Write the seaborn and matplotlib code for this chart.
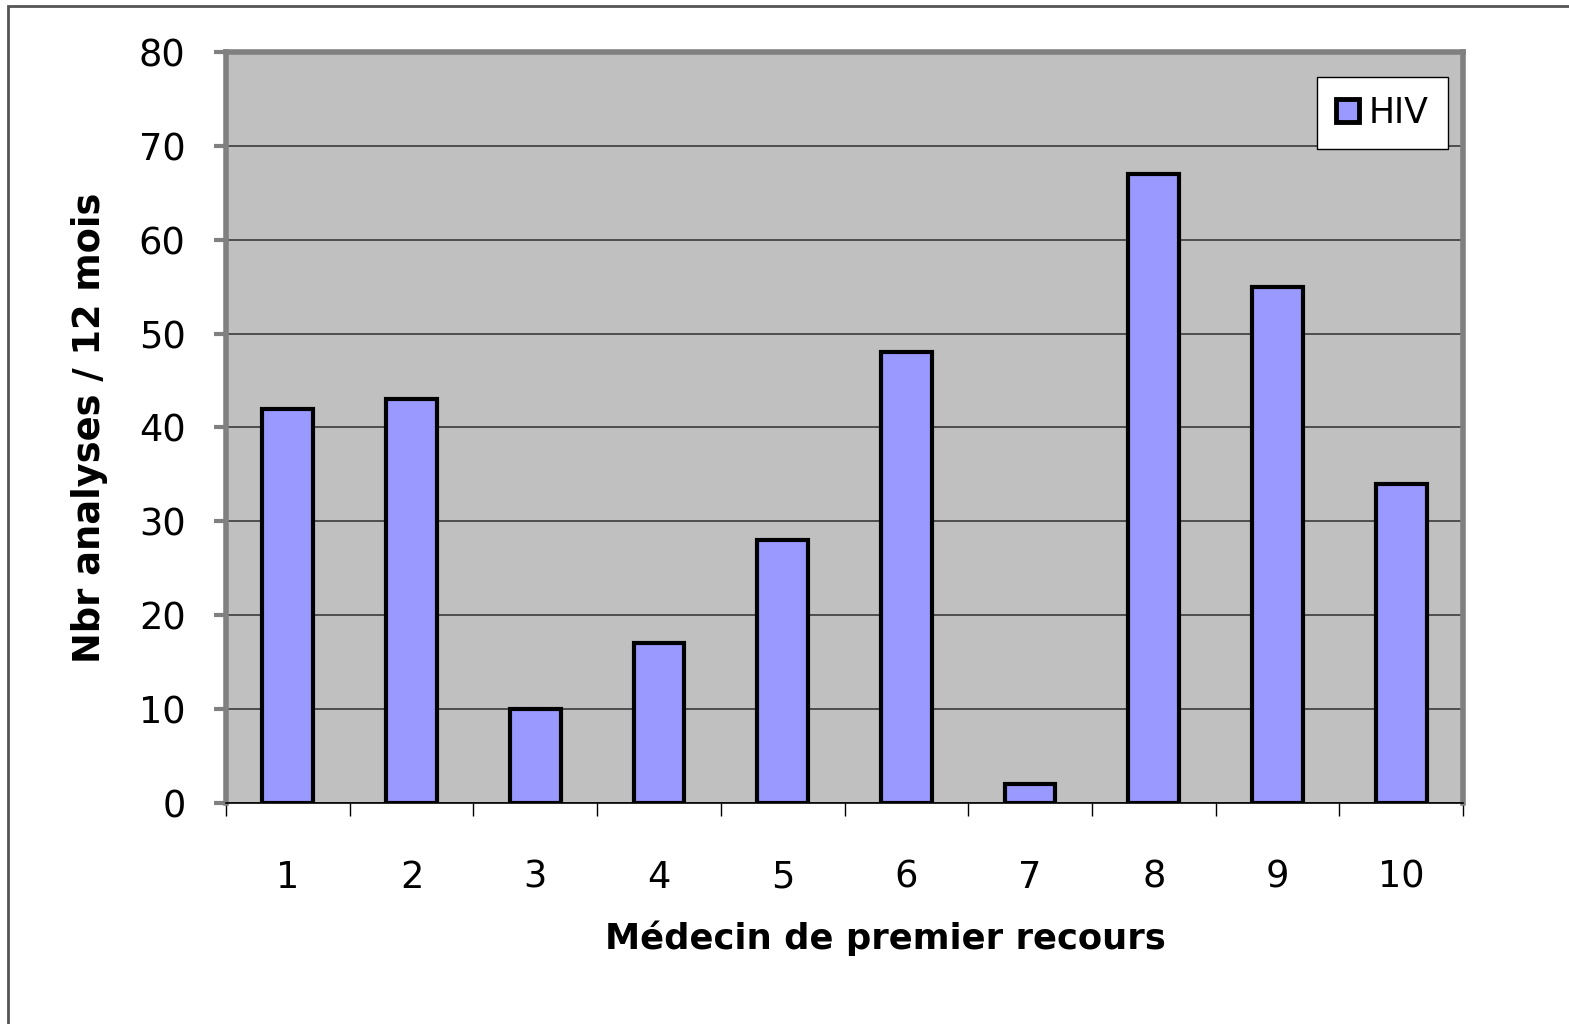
import matplotlib
matplotlib.use("Agg")
import matplotlib.pyplot as plt
import seaborn as sns
import pandas as pd
from matplotlib.patches import Patch, Rectangle
from matplotlib.ticker import FixedLocator

categories = ["1", "2", "3", "4", "5", "6", "7", "8", "9", "10"]
hiv_values = [42, 43, 10, 17, 28, 48, 2, 67, 55, 34]
series_name = "HIV"
y_ticks = [0, 10, 20, 30, 40, 50, 60, 70, 80]

df = pd.DataFrame({"medecin": categories, "n": hiv_values})

sns.set_style("white")
plt.rcParams['font.family'] = ['DejaVu Sans']
plt.rcParams['text.color'] = 'black'
plt.rcParams['axes.labelcolor'] = 'black'
plt.rcParams['xtick.labelcolor'] = 'black'
plt.rcParams['ytick.labelcolor'] = 'black'

fig = plt.figure(figsize=(15.69, 10.24), dpi=100)
ax = fig.add_axes([226/1569, 1 - 803/1024, (1463-226)/1569, (803-52)/1024])
ax.set_facecolor("#C0C0C0")

sns.barplot(data=df, x="medecin", y="n", ax=ax, color="#9999FF", saturation=1,
            width=0.41, edgecolor="black", linewidth=3, zorder=3)

ax.set_ylim(0, 80)
ax.set_xlim(-0.5, len(categories) - 0.5)
ax.set_yticks(y_ticks)
ax.yaxis.grid(True, color="#3a3a3a", linewidth=1.2, zorder=1)
ax.set_axisbelow(True)

for s in ["left", "top", "right"]:
    ax.spines[s].set_color("#808080")
    ax.spines[s].set_linewidth(4)
ax.spines["bottom"].set_color("black")
ax.spines["bottom"].set_linewidth(1.2)

ax.tick_params(axis="y", which="major", left=True, length=9, width=3, color="#808080",
               labelsize=26.5, pad=20, labelcolor="black")
ax.set_xticks(range(len(categories)))
ax.set_xticklabels(categories)
ax.tick_params(axis="x", which="major", length=0, labelsize=26.5, pad=40, labelcolor="black")
ax.xaxis.set_minor_locator(FixedLocator([i - 0.5 for i in range(len(categories) + 1)]))
ax.tick_params(axis="x", which="minor", bottom=True, length=9, width=1, color="black")

ax.set_xlabel("Médecin de premier recours", fontsize=25.5, fontweight="bold", labelpad=18,
              color="black")
ax.xaxis.set_label_coords((885 - 226) / (1463 - 226), -0.0, transform=ax.transAxes)
ax.xaxis.label.set_verticalalignment("top")
ax.set_ylabel("Nbr analyses / 12 mois", fontsize=26.5, fontweight="bold", labelpad=22,
              color="black")

handles = [Patch(facecolor="#9999FF", edgecolor="black", linewidth=3.5, label=series_name)]
leg = ax.legend(handles=handles, loc="upper right", bbox_to_anchor=(1448/1569, 1 - 77/1024),
                bbox_transform=fig.transFigure, fontsize=25, frameon=True, fancybox=False,
                handlelength=0.65, handleheight=0.65, handletextpad=0.3,
                borderpad=0.55, borderaxespad=0)
leg.get_frame().set_edgecolor("black")
leg.get_frame().set_linewidth(1)
leg.get_frame().set_facecolor("white")
leg.get_frame().set_alpha(1)

fig.patches.append(Rectangle((8/1569, -0.1), 1.2, 1 - 6/1024 + 0.1, transform=fig.transFigure,
                             fill=False, edgecolor="#555555", linewidth=2))

fig.canvas.draw()
# place x label so its center sits at y ~ 937 px
ax.xaxis.set_label_coords((885 - 226) / (1463 - 226), -(920 - 803) / (803 - 52))

fig.savefig("out.png", dpi=100, facecolor="white")
